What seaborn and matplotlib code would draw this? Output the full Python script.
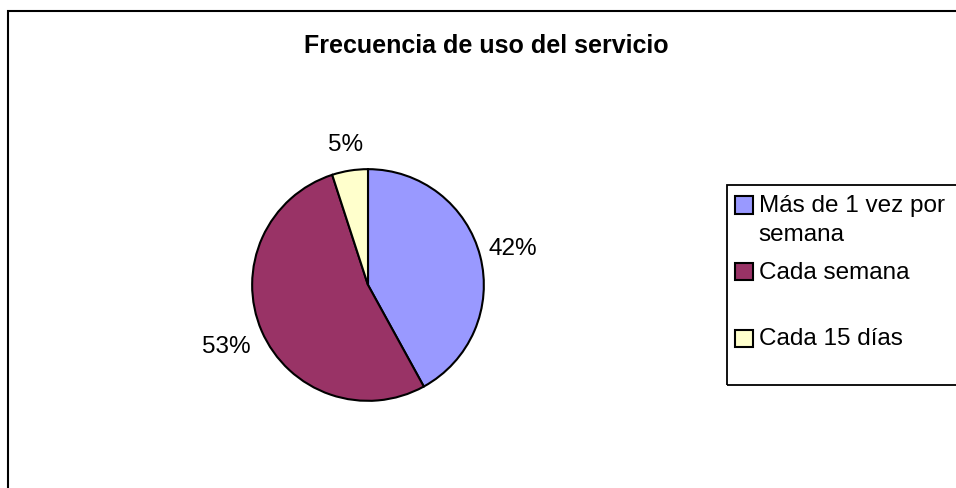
import matplotlib
matplotlib.use("Agg")
import matplotlib.pyplot as plt
from matplotlib.patches import Patch, Rectangle
from matplotlib.legend_handler import HandlerPatch
import seaborn as sns

# data
categories = ["Más de 1 vez por\nsemana", "Cada semana", "Cada 15 días"]
percentages = [42, 53, 5]
colors = ["#9999FF", "#993366", "#FFFFCC"]
title = "Frecuencia de uso del servicio"

sns.set_style("white")
plt.rcParams["font.family"] = ["Liberation Sans", "DejaVu Sans"]
plt.rcParams["text.color"] = "black"

W, H = 956, 489
fig = plt.figure(figsize=(W / 100, H / 100), dpi=100)

# chart frame (only left and top edges visible)
fig.patches.append(Rectangle((8 / W, -0.1), 1.2, (H - 12) / H + 0.1,
                             transform=fig.transFigure, fill=False,
                             edgecolor="black", linewidth=1.5))

# pie axes
cx, cy, r = 368, 286, 117
ax = fig.add_axes([(cx - r) / W, (H - cy - r) / H, 2 * r / W, 2 * r / H])
wedges, texts = ax.pie(percentages, colors=colors, startangle=90, counterclock=False,
                       labels=[f"{p}%" for p in percentages], labeldistance=1.0,
                       wedgeprops=dict(edgecolor="black", linewidth=1.5),
                       textprops=dict(fontsize=17.5, color="black"))
# excel-like label distances
for t, d in zip(texts, [1.29, 1.33, 1.23]):
    x, y = t.get_position()
    t.set_position((x * d, y * d))
    t.set_horizontalalignment("center")
    t.set_verticalalignment("center")
ax.set_aspect("equal")
ax.set_xlim(-1.01, 1.01)
ax.set_ylim(-1.01, 1.01)
ax.axis("off")

fig.text(486 / W, 1 - 46 / H, title, ha="center", va="center",
         fontsize=18, fontweight="bold", color="black")

# legend frame (runs off the right edge)
fig.patches.append(Rectangle((727 / W, 1 - 386 / H), 0.3, 200 / H,
                             transform=fig.transFigure, fill=False,
                             edgecolor="black", linewidth=1.3))


# legend handle sits on the first text line
def top_square(legend, orig_handle, xdescent, ydescent, width, height, fontsize):
    return Rectangle((-xdescent, -ydescent + 0.59 * fontsize), width, height)


handles = [Patch(facecolor=c, edgecolor="black", linewidth=1.5) for c in colors]
labels = [c if "\n" in c else c + "\n " for c in categories]
leg = fig.legend(handles, labels, loc="upper left",
                 bbox_to_anchor=(735 / W, 1 - 195 / H),
                 fontsize=17.5, frameon=False,
                 handlelength=0.72, handleheight=0.72, handletextpad=0.25,
                 labelspacing=0.65, borderpad=0, borderaxespad=0,
                 handler_map={Patch: HandlerPatch(patch_func=top_square)})
for t in leg.get_texts():
    t.set_linespacing(1.4)
    t.set_color("black")

fig.savefig("out.png", dpi=100)
